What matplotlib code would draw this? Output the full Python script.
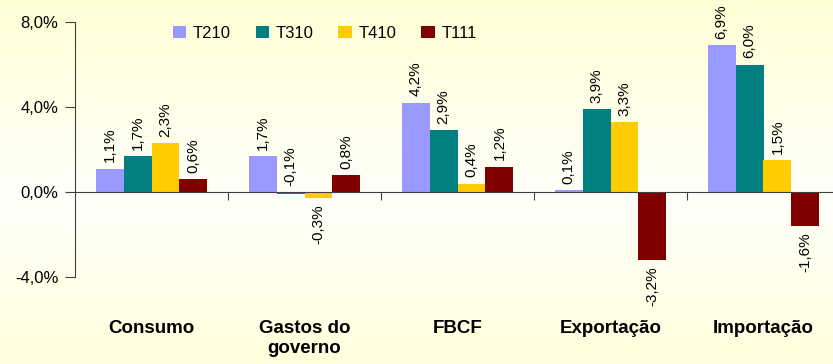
import numpy as np
import matplotlib.pyplot as plt
from matplotlib.colors import LinearSegmentedColormap

plt.rcParams["font.family"] = ["Liberation Sans", "DejaVu Sans"]

categories = ["Consumo", "Gastos do\ngoverno", "FBCF", "Exportação", "Importação"]
series = ["T210", "T310", "T410", "T111"]
values = {
    "T210": [1.1, 1.7, 4.2, 0.1, 6.9],
    "T310": [1.7, -0.1, 2.9, 3.9, 6.0],
    "T410": [2.3, -0.3, 0.4, 3.3, 1.5],
    "T111": [0.6, 0.8, 1.2, -3.2, -1.6],
}
colors = {"T210": "#9999FF", "T310": "#008080", "T410": "#FFCC00", "T111": "#800000"}
yticks = [-4, 0, 4, 8]

fig = plt.figure(figsize=(8.33, 3.64), dpi=100)

# background gradient
bg = fig.add_axes([0, 0, 1, 1], zorder=-10)
cmap = LinearSegmentedColormap.from_list(
    "bg", [(0, "#FFFFD6"), (0.55, "#FFFFFA"), (1, "#FFFFDC")])
grad = np.linspace(0, 1, 256).reshape(-1, 1)
bg.imshow(grad, aspect="auto", cmap=cmap, extent=[0, 1, 0, 1], origin="upper")
bg.axis("off")

ax = fig.add_axes([75 / 833, (364 - 277) / 364, 765 / 833, 255 / 364])
ax.patch.set_alpha(0)

n = len(series)
bw = 0.73 / n
x = np.arange(len(categories))
for i, s in enumerate(series):
    pos = x - 0.365 + bw * (i + 0.5)
    ax.bar(pos, values[s], bw, color=colors[s], label=s, zorder=2)
    for px, v in zip(pos, values[s]):
        lab = f"{v:.1f}%".replace(".", ",")
        if v > -0.2:
            ax.text(px, max(v, 0) + 0.3, lab, rotation=90, ha="center",
                    va="bottom", fontsize=11)
        else:
            ax.text(px, v - 0.3, lab, rotation=90, ha="center", va="top",
                    fontsize=11)

ax.set_xlim(-0.5, len(categories) - 0.5)
ax.set_ylim(-4, 8)
ax.set_yticks(yticks)
ax.set_yticklabels([f"{t:.1f}%".replace(".", ",") for t in yticks], fontsize=12)
ax.tick_params(axis="y", length=7, color="#404040", pad=5)

ax.spines["top"].set_visible(False)
ax.spines["right"].set_visible(False)
ax.spines["left"].set_color("#404040")
ax.spines["bottom"].set_position(("data", 0))
ax.spines["bottom"].set_color("#404040")
ax.set_xticks(np.arange(0.5, len(categories) - 0.5, 1))
ax.set_xticklabels([])
ax.tick_params(axis="x", direction="out", length=6, color="#404040")

for xi, c in zip(x, categories):
    ax.text(xi, -0.17, c, transform=ax.get_xaxis_transform(), ha="center",
            va="top", fontsize=13.5, fontweight="bold", linespacing=1.2)

ax.legend(loc="upper left", bbox_to_anchor=(0.108, 1.045), ncol=4, frameon=False,
          fontsize=12, handlelength=0.8, handleheight=0.8, handletextpad=0.4,
          columnspacing=1.5)

fig.savefig("out.png", dpi=100)
